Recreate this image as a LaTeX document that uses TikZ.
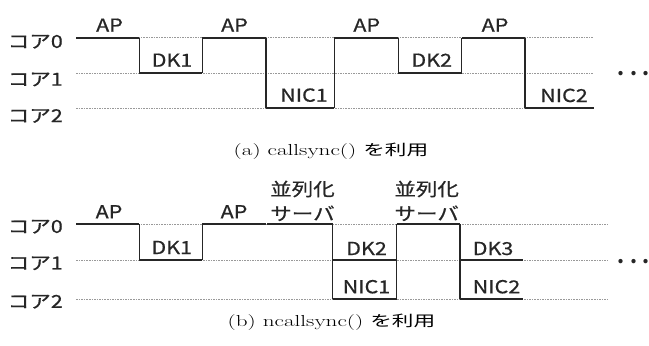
\documentclass[tikz,border=0pt]{standalone}
\usepackage{fontspec}
\usepackage{graphicx}
\newfontfamily\jp{Noto Sans CJK JP}
\newfontfamily\jpb[FakeBold=0.6]{Noto Sans CJK JP}
\newcommand\Wd[1]{\scalebox{1.2}[1]{#1}}
\newcommand\Wc[1]{\scalebox{1.45}[1]{#1}}
\tikzset{
  lbl/.style={inner sep=0pt, anchor=base, font=\jpb\fontsize{18}{20}\selectfont, text=black!85},
  lblc/.style={inner sep=0pt, anchor=center, font=\jpb\fontsize{18}{20}\selectfont, text=black!85},
  corelbl/.style={inner sep=0pt, anchor=east, font=\jpb\fontsize{18}{20}\selectfont, text=black!85},
  gridline/.style={draw=gray!80, line width=0.6pt, dash pattern=on 1.6pt off 1pt},
  hseg/.style={draw=black!85, line width=2pt},
  vseg/.style={draw=black!85, line width=1.1pt},
  captxt/.style={inner sep=0pt, anchor=base, font=\fontsize{16}{18}\selectfont},
  dotstxt/.style={inner sep=0pt, anchor=center, font=\jp\bfseries\fontsize{20}{22}\selectfont, text=black!85}
}
\begin{document}
\begin{tikzpicture}[x=1bp,y=-1bp]
\useasboundingbox (0,0) rectangle (649,345);
% ---------- (a) ----------
\def\ra{37.7}\def\rb{73}\def\rc{108.3}
\draw[gridline] (76,\ra) -- (594,\ra);
\draw[gridline] (76,\rb) -- (594,\rb);
\draw[gridline] (76,\rc) -- (594,\rc);
\node[corelbl] (a0) at (63,41.7) {\Wd{コア0}};
\node[corelbl] (a1) at (63,79.5) {\Wd{コア1}};
\node[corelbl] (a2) at (63,116) {\Wd{コア2}};
\draw[hseg] (76,\ra) -- (139.3,\ra);
\draw[vseg] (139.3,\ra) -- (139.3,\rb);
\draw[hseg] (139.3,\rb) -- (202.3,\rb);
\draw[vseg] (202.3,\rb) -- (202.3,\ra);
\draw[hseg] (202.3,\ra) -- (266,\ra);
\draw[vseg] (266,\ra) -- (266,\rc);
\draw[hseg] (266,\rc) -- (334.3,\rc);
\draw[vseg] (334.3,\rc) -- (334.3,\ra);
\draw[hseg] (334.3,\ra) -- (398.3,\ra);
\draw[vseg] (398.3,\ra) -- (398.3,\rb);
\draw[hseg] (398.3,\rb) -- (461.7,\rb);
\draw[vseg] (461.7,\rb) -- (461.7,\ra);
\draw[hseg] (461.7,\ra) -- (525,\ra);
\draw[vseg] (525,\ra) -- (525,\rc);
\draw[hseg] (525,\rc) -- (594,\rc);
\node[lbl] (aap1) at (109.5,31.7) {\Wd{AP}};
\node[lbl] (adk1) at (172,66.7) {\Wd{DK1}};
\node[lbl] (aap2) at (234.5,31.7) {\Wd{AP}};
\node[lbl] (anic1) at (304,101.7) {\Wd{NIC1}};
\node[lbl] (aap3) at (366.7,31.7) {\Wd{AP}};
\node[lbl] (adk2) at (431.7,66.7) {\Wd{DK2}};
\node[lbl] (aap4) at (495,31.7) {\Wd{AP}};
\node[lbl] (anic2) at (564,102) {\Wd{NIC2}};
\node[dotstxt] (adots) at (633.5,74) {.\hspace{6pt}.\hspace{6pt}.};
\node[captxt] (capa) at (331,155) {\Wc{(a) callsync() {\jp\fontsize{15}{17}\selectfont を利用}}};
% ---------- (b) ----------
\def\sa{224.3}\def\sb{260}\def\sc{299.3}
\draw[gridline] (76,\sa) -- (608,\sa);
\draw[gridline] (76,\sb) -- (608,\sb);
\draw[gridline] (76,\sc) -- (608,\sc);
\node[corelbl] (b0) at (63,226.7) {\Wd{コア0}};
\node[corelbl] (b1) at (63,263.3) {\Wd{コア1}};
\node[corelbl] (b2) at (63,301.7) {\Wd{コア2}};
\draw[hseg] (76,\sa) -- (139.3,\sa);
\draw[vseg] (139.3,\sa) -- (139.3,\sb);
\draw[hseg] (139.3,\sb) -- (202.3,\sb);
\draw[vseg] (202.3,\sb) -- (202.3,\sa);
\draw[hseg] (202.3,\sa) -- (265.6,\sa);
\draw[hseg] (267,\sa) -- (332.7,\sa);
\draw[vseg] (332.7,\sa) -- (332.7,\sc);
\draw[hseg] (332.7,\sb) -- (396.7,\sb);
\draw[hseg] (332.7,\sc) -- (396.7,\sc);
\draw[vseg] (396.7,\sc) -- (396.7,\sa);
\draw[hseg] (396.7,\sa) -- (460,\sa);
\draw[vseg] (460,\sa) -- (460,\sc);
\draw[hseg] (460,\sb) -- (523,\sb);
\draw[hseg] (460,\sc) -- (523,\sc);
\node[lbl] (bap1) at (109,218.3) {\Wd{AP}};
\node[lbl] (bdk1) at (171.7,254) {\Wd{DK1}};
\node[lbl] (bap2) at (234,218.3) {\Wd{AP}};
\node[lblc] (bpar1) at (302.5,189) {\Wd{並列化}};
\node[lblc] (bsrv1) at (302.5,213.3) {\Wd{サーバ}};
\node[lblc] (bpar2) at (426.7,189) {\Wd{並列化}};
\node[lblc] (bsrv2) at (426.7,213.3) {\Wd{サーバ}};
\node[lbl] (bdk2) at (366.5,255) {\Wd{DK2}};
\node[lbl] (bnic1) at (366.5,293.3) {\Wd{NIC1}};
\node[lbl] (bdk3) at (493,255) {\Wd{DK3}};
\node[lbl] (bnic2) at (496.5,293.3) {\Wd{NIC2}};
\node[dotstxt] (bdots) at (633.5,262) {.\hspace{6pt}.\hspace{6pt}.};
\node[captxt] (capb) at (331.5,326) {\Wc{(b) ncallsync() {\jp\fontsize{15}{17}\selectfont を利用}}};
\end{tikzpicture}
\end{document}
